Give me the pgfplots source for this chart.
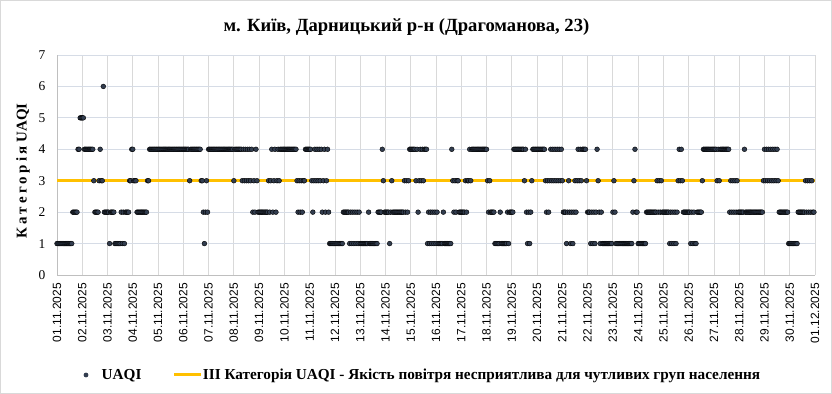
\documentclass[border=0pt]{standalone}
\usepackage{pgfplots}
\pgfplotsset{compat=1.18}
\usepackage{fontspec}
\setmainfont{Liberation Serif}
\setsansfont{Liberation Sans}
\definecolor{dotc}{RGB}{50,61,79}
\definecolor{gold}{RGB}{255,192,0}
\definecolor{gridx}{RGB}{217,217,217}
\definecolor{gridy}{RGB}{214,220,230}
\definecolor{axisc}{RGB}{191,191,191}
\definecolor{bordc}{RGB}{217,217,217}
\begin{document}
\begin{tikzpicture}
\begin{axis}[
  at={(0,0)}, anchor=south west,
  scale only axis, width=758bp, height=220bp,
  xmin=0, xmax=720, ymin=0, ymax=7,
  clip=false,
  xtick={0,24,...,720},
  xticklabels={01.11.2025,02.11.2025,03.11.2025,04.11.2025,05.11.2025,06.11.2025,07.11.2025,08.11.2025,09.11.2025,10.11.2025,11.11.2025,12.11.2025,13.11.2025,14.11.2025,15.11.2025,16.11.2025,17.11.2025,18.11.2025,19.11.2025,20.11.2025,21.11.2025,22.11.2025,23.11.2025,24.11.2025,25.11.2025,26.11.2025,27.11.2025,28.11.2025,29.11.2025,30.11.2025,01.12.2025},
  ytick={0,1,...,7},
  major tick length=0pt,
  xmajorgrids, ymajorgrids,
  x grid style={draw=gridx, line width=0.75bp},
  y grid style={draw=gridy, line width=0.75bp},
  axis x line*=bottom, axis y line*=left,
  axis line style={draw=axisc, line width=0.75bp, -},
  xticklabel style={rotate=90, anchor=east, inner sep=0pt, font=\sffamily\fontsize{12}{12}\selectfont},
  xticklabel shift=8bp,
  yticklabel style={anchor=east, inner sep=0pt, font=\fontsize{13.5}{14}\selectfont},
  yticklabel shift=11.5bp,
  /pgf/number format/assume math mode=true,
  title={м. Київ, Дарницький р-н (Драгоманова, 23)},
  title style={at={(axis description cs:0.461,1.0805)}, anchor=base, font=\bfseries\fontsize{18.67}{20}\selectfont},
  ylabel={{\addfontfeature{LetterSpace=22}Категорія}\ UAQI},
  every axis y label/.style={at={(axis description cs:-0.0449,0.4727)}, rotate=90, anchor=center, font=\bfseries\fontsize{15}{16}\selectfont},
  legend columns=2,
  legend style={at={(axis description cs:0.03496,-0.4545)}, anchor=west, draw=none, fill=none, inner sep=0pt, outer sep=0pt,
    font=\bfseries\fontsize{15.3}{16}\selectfont, nodes={inner sep=0pt},
    /tikz/every odd column/.append style={column sep=0pt},
    /tikz/every even column/.append style={column sep=31bp}},
]
\addplot[draw=gold, line width=3bp, forget plot] coordinates {(0,3) (720,3)};
\addplot[only marks, mark=*, mark size=2.4bp, mark options={draw=none, fill=dotc},
  legend image code/.code={\fill[dotc, draw=none] (0bp,0bp) circle (2.4bp); \path[draw=none, fill=none] (-2.5bp,0bp) rectangle (15.7bp,0.1bp);}]
coordinates {
(0,1)(1,1)(2,1)(3,1)(4,1)(5,1)(6,1)(7,1)(8,1)(9,1)(10,1)(11,1)(12,1)(13,1)(14,1)(15,2)(16,2)(17,2)(18,2)(19,2)(20,4)(21,4)(22,5)(23,5)
(24,5)(25,5)(26,4)(27,4)(28,4)(29,4)(30,4)(31,4)(32,4)(33,4)(34,4)(35,3)(36,2)(37,2)(38,2)(39,2)(40,3)(41,4)(42,3)(43,3)(44,6)(45,2)(46,2)(47,2)
(48,2)(49,2)(50,1)(51,2)(52,2)(53,2)(54,2)(55,1)(56,1)(57,1)(58,1)(59,1)(60,1)(61,2)(62,1)(63,2)(64,1)(65,2)(66,2)(67,2)(68,2)(69,3)(70,3)(71,4)
(72,4)(73,3)(74,3)(75,3)(76,2)(77,2)(78,2)(79,2)(80,2)(81,2)(82,2)(83,2)(84,2)(85,2)(86,3)(87,3)(88,4)(89,4)(90,4)(91,4)(92,4)(93,4)(94,4)(95,4)
(96,4)(97,4)(98,4)(99,4)(100,4)(101,4)(102,4)(103,4)(104,4)(105,4)(106,4)(107,4)(108,4)(109,4)(110,4)(111,4)(112,4)(113,4)(114,4)(115,4)(116,4)(117,4)(118,4)(119,4)
(120,4)(121,4)(122,4)(123,4)(124,4)(125,4)(126,3)(127,4)(128,4)(129,4)(130,4)(131,4)(132,4)(133,4)(134,4)(135,4)(136,4)(137,3)(138,3)(139,2)(140,1)(141,2)(142,3)(143,2)
(144,4)(145,4)(146,4)(147,4)(148,4)(149,4)(150,4)(151,4)(152,4)(153,4)(154,4)(155,4)(156,4)(157,4)(158,4)(159,4)(160,4)(161,4)(162,4)(163,4)(164,4)(165,4)(166,4)(167,4)
(168,3)(169,4)(170,4)(171,4)(172,4)(173,4)(174,4)(175,4)(176,3)(177,4)(178,3)(179,4)(180,3)(181,4)(182,3)(183,4)(184,3)(185,4)(186,2)(187,3)(188,2)(189,4)(190,3)(191,2)
(192,2)(193,2)(194,2)(195,2)(196,2)(197,2)(198,2)(199,2)(200,2)(201,3)(202,2)(203,3)(204,4)(205,2)(206,3)(207,4)(208,2)(209,3)(210,4)(211,3)(212,4)(213,4)(214,4)(215,4)
(216,4)(217,4)(218,4)(219,4)(220,4)(221,4)(222,4)(223,4)(224,4)(225,4)(226,4)(227,4)(228,3)(229,2)(230,3)(231,2)(232,3)(233,2)(234,3)(235,3)(236,4)(237,4)(238,4)(239,4)
(240,4)(241,4)(242,3)(243,2)(244,3)(245,4)(246,3)(247,4)(248,3)(249,4)(250,3)(251,4)(252,2)(253,3)(254,4)(255,2)(256,3)(257,4)(258,2)(259,1)(260,1)(261,1)(262,1)(263,1)
(264,1)(265,1)(266,1)(267,1)(268,1)(269,1)(270,1)(271,1)(272,2)(273,2)(274,2)(275,2)(276,2)(277,2)(278,1)(279,2)(280,1)(281,2)(282,1)(283,2)(284,1)(285,2)(286,1)(287,2)
(288,1)(289,1)(290,1)(291,1)(292,1)(293,1)(294,1)(295,1)(296,2)(297,1)(298,1)(299,1)(300,1)(301,1)(302,1)(303,1)(304,1)(305,2)(306,2)(307,2)(308,2)(309,4)(310,3)(311,2)
(312,2)(313,2)(314,2)(315,2)(316,1)(317,2)(318,3)(319,2)(320,2)(321,2)(322,2)(323,2)(324,2)(325,2)(326,2)(327,2)(328,2)(329,2)(330,3)(331,2)(332,3)(333,2)(334,3)(335,4)
(336,4)(337,4)(338,4)(339,4)(340,4)(341,3)(342,4)(343,2)(344,3)(345,4)(346,3)(347,4)(348,3)(349,4)(350,4)(351,4)(352,1)(353,2)(354,1)(355,2)(356,1)(357,2)(358,1)(359,2)
(360,1)(361,2)(362,1)(363,1)(364,1)(365,1)(366,1)(367,2)(368,1)(369,1)(370,1)(371,1)(372,1)(373,1)(374,1)(375,4)(376,3)(377,2)(378,3)(379,2)(380,3)(381,3)(382,2)(383,2)
(384,2)(385,2)(386,2)(387,2)(388,3)(389,2)(390,3)(391,3)(392,4)(393,3)(394,4)(395,4)(396,4)(397,4)(398,4)(399,4)(400,4)(401,4)(402,4)(403,4)(404,4)(405,4)(406,4)(407,4)
(408,4)(409,3)(410,2)(411,3)(412,2)(413,2)(414,2)(415,2)(416,1)(417,1)(418,1)(419,1)(420,1)(421,2)(422,1)(423,1)(424,1)(425,1)(426,1)(427,1)(428,2)(429,1)(430,2)(431,2)
(432,2)(433,2)(434,4)(435,4)(436,4)(437,4)(438,4)(439,4)(440,4)(441,4)(442,4)(443,4)(444,3)(445,4)(446,2)(447,1)(448,2)(449,1)(450,2)(451,3)(452,4)(453,4)(454,4)(455,4)
(456,4)(457,4)(458,4)(459,4)(460,4)(461,4)(462,4)(463,4)(464,3)(465,2)(466,3)(467,2)(468,3)(469,4)(470,3)(471,4)(472,3)(473,4)(474,3)(475,4)(476,3)(477,4)(478,3)(479,4)
(480,3)(481,2)(482,2)(483,2)(484,1)(485,2)(486,3)(487,2)(488,1)(489,2)(490,1)(491,2)(492,3)(493,2)(494,3)(495,4)(496,3)(497,4)(498,3)(499,4)(500,4)(501,4)(502,4)(503,3)
(504,2)(505,2)(506,2)(507,1)(508,2)(509,1)(510,2)(511,1)(512,2)(513,4)(514,3)(515,2)(516,1)(517,2)(518,1)(519,1)(520,1)(521,1)(522,1)(523,1)(524,1)(525,1)(526,1)(527,1)
(528,2)(529,3)(530,2)(531,1)(532,1)(533,1)(534,1)(535,1)(536,1)(537,1)(538,1)(539,1)(540,1)(541,1)(542,1)(543,1)(544,1)(545,1)(546,1)(547,2)(548,3)(549,4)(550,2)(551,2)
(552,1)(553,1)(554,1)(555,1)(556,1)(557,1)(558,1)(559,1)(560,2)(561,2)(562,2)(563,2)(564,2)(565,2)(566,2)(567,2)(568,2)(569,2)(570,3)(571,2)(572,3)(573,2)(574,3)(575,2)
(576,2)(577,2)(578,2)(579,2)(580,2)(581,2)(582,1)(583,2)(584,1)(585,2)(586,1)(587,2)(588,1)(589,2)(590,3)(591,4)(592,3)(593,4)(594,3)(595,2)(596,2)(597,2)(598,2)(599,2)
(600,2)(601,2)(602,1)(603,2)(604,1)(605,2)(606,1)(607,1)(608,2)(609,2)(610,2)(611,2)(612,2)(613,3)(614,4)(615,4)(616,4)(617,4)(618,4)(619,4)(620,4)(621,4)(622,4)(623,4)
(624,4)(625,4)(626,4)(627,3)(628,4)(629,3)(630,4)(631,4)(632,4)(633,4)(634,4)(635,4)(636,4)(637,4)(638,4)(639,2)(640,3)(641,2)(642,3)(643,2)(644,3)(645,2)(646,3)(647,2)
(648,2)(649,2)(650,2)(651,2)(652,2)(653,4)(654,2)(655,2)(656,2)(657,2)(658,2)(659,2)(660,2)(661,2)(662,2)(663,2)(664,2)(665,2)(666,2)(667,2)(668,2)(669,2)(670,2)(671,3)
(672,4)(673,3)(674,4)(675,3)(676,4)(677,3)(678,4)(679,3)(680,4)(681,3)(682,4)(683,3)(684,4)(685,3)(686,2)(687,2)(688,2)(689,2)(690,2)(691,2)(692,2)(693,2)(694,2)(695,1)
(696,1)(697,1)(698,1)(699,1)(700,1)(701,1)(702,1)(703,1)(704,2)(705,2)(706,2)(707,2)(708,2)(709,2)(710,2)(711,3)(712,2)(713,3)(714,2)(715,3)(716,2)(717,3)(718,2)(719,2)
};
\addlegendentry{UAQI}
\addlegendimage{legend image code/.code={\draw[gold, line width=3bp] (0bp,0bp) -- (27.3bp,0bp); \path[draw=none, fill=none] (0bp,0bp) rectangle (29bp,0.1bp);}}
\addlegendentry{III Категорія UAQI - Якість повітря несприятлива для чутливих груп населення}
\end{axis}
\draw[bordc, line width=0.75bp] (-56.5bp,-118.5bp) rectangle (774.5bp,274.5bp);
\pgfresetboundingbox
\path[use as bounding box] (-57bp,-119bp) rectangle (775bp,275bp);
\end{tikzpicture}
\end{document}
